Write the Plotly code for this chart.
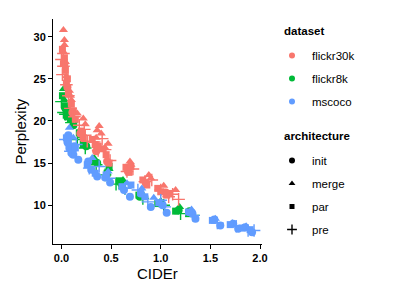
import plotly.graph_objects as go

# ---------------- data ----------------
datasets = ["flickr30k", "flickr8k", "mscoco"]
architectures = ["init", "merge", "par", "pre"]

# flickr30k
f30k_init_cider = [0.03, 0.06, 0.11, 0.19, 0.35, 0.46, 0.67, 0.85, 1.05]
f30k_init_ppl = [26.8, 24.0, 21.0, 18.5, 16.4, 15.2, 14.0, 12.6, 11.5]
f30k_merge_cider = [0.02, 0.03, 0.02, 0.04, 0.05, 0.08, 0.10, 0.16, 0.22, 0.24, 0.36, 0.38, 0.40, 0.47, 0.69, 0.70, 0.88, 0.90, 1.03, 1.15, 0.03, 0.09, 0.35, 0.44]
f30k_merge_ppl = [30.8, 29.6, 28.2, 27.0, 25.3, 23.6, 22.5, 20.9, 20.3, 19.6, 18.9, 19.4, 18.5, 17.3, 15.2, 14.8, 13.6, 13.2, 12.3, 11.8, 29.0, 23.0, 18.0, 16.8]
f30k_par_cider = [0.01, 0.03, 0.04, 0.06, 0.07, 0.10, 0.12, 0.14, 0.20, 0.22, 0.31, 0.34, 0.42, 0.45, 0.48, 0.65, 0.68, 0.82, 0.86, 0.97, 1.00, 1.06, 0.02, 0.05, 0.37, 0.70, 1.09]
f30k_par_ppl = [28.5, 27.5, 26.0, 25.0, 23.2, 22.0, 21.2, 20.2, 18.8, 18.0, 17.8, 17.2, 16.7, 16.0, 15.0, 14.5, 13.9, 13.0, 12.4, 12.0, 11.6, 11.2, 26.8, 24.5, 17.0, 14.6, 11.4]
f30k_pre_cider = [0.00, 0.02, 0.01, 0.05, 0.07, 0.09, 0.13, 0.18, 0.24, 0.26, 0.33, 0.37, 0.44, 0.49, 0.66, 0.72, 0.84, 0.91, 1.00, 1.08, 1.12, 1.18, 0.02, 0.23, 0.41]
f30k_pre_ppl = [27.3, 26.5, 25.5, 24.3, 23.0, 21.5, 20.5, 19.5, 18.3, 17.6, 17.5, 16.5, 16.6, 15.3, 14.0, 14.3, 12.8, 13.0, 11.8, 11.0, 11.3, 10.7, 28.0, 19.0, 17.9]

# flickr8k
f8k_init_cider = [0.04, 0.12, 0.25, 0.36, 0.60, 0.79, 1.18, 1.29]
f8k_init_ppl = [21.5, 19.5, 17.0, 15.0, 12.6, 11.0, 9.4, 9.3]
f8k_merge_cider = [0.02, 0.03, 0.08, 0.20, 0.33, 0.48, 0.62, 0.80, 1.00, 1.17, 1.30, 1.19]
f8k_merge_ppl = [23.8, 22.5, 20.6, 18.2, 15.6, 14.3, 13.0, 11.6, 10.5, 9.5, 9.2, 9.8]
f8k_par_cider = [0.01, 0.03, 0.05, 0.09, 0.18, 0.22, 0.31, 0.46, 0.58, 0.61, 0.78, 0.97, 1.15, 1.28, 0.06, 0.48]
f8k_par_ppl = [23.0, 21.8, 21.2, 20.2, 18.6, 17.2, 15.2, 13.8, 12.9, 12.3, 11.2, 10.2, 9.3, 9.0, 20.5, 14.6]
f8k_pre_cider = [0.00, 0.02, 0.04, 0.10, 0.16, 0.24, 0.35, 0.44, 0.55, 0.64, 0.82, 1.03, 1.20, 1.33]
f8k_pre_ppl = [22.3, 21.0, 20.8, 19.8, 17.8, 16.8, 14.8, 13.6, 12.5, 12.0, 10.8, 10.0, 9.0, 8.8]

# mscoco
coco_init_cider = [0.06, 0.08, 0.10, 0.13, 0.17, 0.27, 0.30, 0.36, 0.44, 0.49, 0.63, 0.69, 0.80, 0.90, 1.02, 1.06, 1.32, 1.35, 1.54, 1.60, 1.73, 1.78, 1.85, 1.92, 0.07, 0.12]
coco_init_ppl = [17.5, 16.8, 16.2, 17.0, 15.4, 15.2, 14.2, 13.4, 13.3, 12.7, 11.8, 11.0, 11.4, 9.8, 10.0, 9.1, 9.0, 8.4, 8.3, 7.6, 7.8, 7.2, 7.4, 6.8, 18.3, 16.0]
coco_merge_cider = [0.08, 0.12, 0.31, 0.47, 0.66, 0.81, 0.93, 1.31, 1.55, 1.72, 1.86]
coco_merge_ppl = [19.2, 18.0, 15.6, 14.0, 12.6, 12.0, 10.9, 9.5, 8.4, 7.9, 7.5]
coco_par_cider = [0.05, 0.07, 0.11, 0.14, 0.26, 0.34, 0.45, 0.61, 0.70, 0.84, 0.98, 1.28, 1.52, 1.70, 1.82, 1.90]
coco_par_ppl = [18.0, 17.4, 16.5, 16.8, 14.8, 13.8, 13.6, 12.2, 12.4, 11.0, 10.3, 9.2, 8.2, 7.7, 7.3, 7.1]
coco_pre_cider = [0.04, 0.09, 0.15, 0.28, 0.38, 0.48, 0.64, 0.77, 0.87, 1.00, 1.04, 1.33, 1.57, 1.76, 1.88, 1.94]
coco_pre_ppl = [17.8, 16.4, 17.2, 14.4, 14.6, 13.2, 12.0, 11.8, 10.4, 10.6, 9.8, 8.8, 7.9, 7.5, 7.0, 7.0]

x_ticks = [0.0, 0.5, 1.0, 1.5, 2.0]
x_ticklabels = ["0.0", "0.5", "1.0", "1.5", "2.0"]
y_ticks = [10, 15, 20, 25, 30]
y_ticklabels = ["10", "15", "20", "25", "30"]
x_title = "CIDEr"
y_title = "Perplexity"

# ---------------- styling ----------------
colors = {"flickr30k": "#F8766D", "flickr8k": "#00BA38", "mscoco": "#619CFF"}
symbols = {"init": "circle", "merge": "triangle-up", "par": "square", "pre": "cross-thin"}

series = {
    "flickr30k": {
        "init": (f30k_init_cider, f30k_init_ppl),
        "merge": (f30k_merge_cider, f30k_merge_ppl),
        "par": (f30k_par_cider, f30k_par_ppl),
        "pre": (f30k_pre_cider, f30k_pre_ppl),
    },
    "flickr8k": {
        "init": (f8k_init_cider, f8k_init_ppl),
        "merge": (f8k_merge_cider, f8k_merge_ppl),
        "par": (f8k_par_cider, f8k_par_ppl),
        "pre": (f8k_pre_cider, f8k_pre_ppl),
    },
    "mscoco": {
        "init": (coco_init_cider, coco_init_ppl),
        "merge": (coco_merge_cider, coco_merge_ppl),
        "par": (coco_par_cider, coco_par_ppl),
        "pre": (coco_pre_cider, coco_pre_ppl),
    },
}


def marker_for(color, arch, size=8):
    m = dict(color=color, symbol=symbols[arch], size=size, line=dict(width=0))
    if arch == "pre":
        m["line"] = dict(color=color, width=1.4)
        m["size"] = size + 1
    if arch == "par":
        m["size"] = size - 1
    return m


fig = go.Figure()
for ds in ["flickr8k", "flickr30k", "mscoco"]:
    for arch in architectures:
        xs, ys = series[ds][arch]
        fig.add_trace(go.Scatter(
            x=xs, y=ys, mode="markers",
            marker=marker_for(colors[ds], arch),
            showlegend=False, hoverinfo="x+y",
        ))

# legend entries
FONT = "Liberation Sans, Arial, Helvetica, sans-serif"
for ds in datasets:
    fig.add_trace(go.Scatter(
        x=[None], y=[None], mode="markers", name=ds,
        marker=dict(color=colors[ds], symbol="circle", size=6),
        legend="legend", legendgroup="d_" + ds,
    ))
for arch in architectures:
    fig.add_trace(go.Scatter(
        x=[None], y=[None], mode="markers", name=arch,
        marker=marker_for("black", arch, size=6),
        legend="legend2", legendgroup="a_" + arch,
    ))

legend_common = dict(
    font=dict(family=FONT, size=11.5, color="black"),
    bgcolor="rgba(0,0,0,0)",
    traceorder="grouped",
    tracegroupgap=4,
    itemwidth=30,
    xanchor="left", yanchor="top",
)

L, R, T, B = 53, 132, 19, 49
W, H = 394, 293
pw, ph = W - L - R, H - T - B


def px_x(p):
    return (p - L) / pw


def px_y(p):
    return (H - B - p) / ph


def label(text, x, y, size=11.5, angle=0, xanchor="left"):
    return dict(text=text, xref="paper", yref="paper", x=x, y=y,
                xanchor=xanchor, yanchor="middle", textangle=angle,
                showarrow=False, font=dict(family=FONT, size=size, color="black"))


fig.update_layout(
    width=W, height=H,
    margin=dict(l=L, r=R, t=T, b=B),
    paper_bgcolor="white", plot_bgcolor="white",
    font=dict(family=FONT, color="black"),
    legend=dict(x=px_x(272), y=px_y(41), **legend_common),
    legend2=dict(x=px_x(272), y=px_y(146), **legend_common),
    annotations=[
        label("<b>dataset</b>", px_x(282), px_y(31)),
        label("<b>architecture</b>", px_x(282), px_y(136)),
        label(x_title, px_x(157), px_y(273), size=15, xanchor="center"),
        label(y_title, px_x(20), px_y(131.5), size=15, angle=-90, xanchor="center"),
    ],
    xaxis=dict(
        range=[-0.085, 2.02],
        tickvals=x_ticks, ticktext=x_ticklabels,
        showline=True, linecolor="black", linewidth=1,
        ticks="outside", ticklen=4, tickcolor="black", tickwidth=1,
        showgrid=False, zeroline=False, automargin=False,
        tickfont=dict(family=FONT, size=11, color="black", weight="bold"),
    ),
    yaxis=dict(
        range=[5.4, 32.1],
        tickvals=y_ticks, ticktext=y_ticklabels,
        showline=True, linecolor="black", linewidth=1,
        ticks="outside", ticklen=4, tickcolor="black", tickwidth=1,
        showgrid=False, zeroline=False, automargin=False,
        tickfont=dict(family=FONT, size=11, color="black", weight="bold"),
    ),
)

fig.write_html(
    "out.html",
    config={"displayModeBar": False},
    post_script="document.body.style.margin='0';document.body.style.overflow='hidden';",
)
